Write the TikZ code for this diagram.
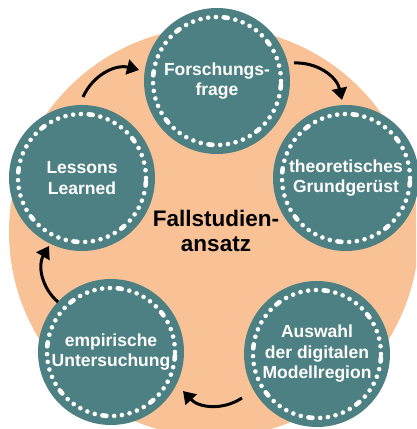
\documentclass[tikz,border=0pt]{standalone}
\usepackage{fontspec}
\setmainfont{Liberation Sans}
\usetikzlibrary{arrows.meta}
\definecolor{tealc}{RGB}{77,128,130}
\definecolor{peach}{RGB}{249,194,150}
\begin{document}
\begin{tikzpicture}[x=1pt,y=1pt,
  stage/.style={circle, fill=tealc, minimum size=146pt, inner sep=0pt, text=white,
    font=\fontsize{17.5}{20.5}\selectfont\bfseries, align=center},
  ring/.style={draw=white, line width=4.6pt, line cap=round,
    dash pattern=on 0pt off 7.8pt on 0pt off 7.8pt on 0pt off 7.8pt on 0pt off 7.8pt on 0pt off 7.8pt on 4pt off 7.8pt},
  flow/.style={line width=3pt, -{Triangle[width=15pt,length=12pt]}, bend left=40}
]
\useasboundingbox (0,0) rectangle (416,429);
\begin{scope}
  \clip (0,0) rectangle (416,429);
  \fill[peach] (214,197) circle[radius=205];
\end{scope}
\node[font=\fontsize{22.5}{25.5}\selectfont\bfseries, align=center] (core) at (216,198) {Fallstudien-\\ansatz};
\node[stage] (ff) at (217,348) {Forschungs-\\frage};
\node[stage] (tg) at (346,251) {theoretisches\\Grundgerüst};
\node[stage] (aw) at (317,75) {Auswahl\\der digitalen\\Modellregion};
\node[stage] (eu) at (111,77) {empirische\\Untersuchung};
\node[stage] (ll) at (82,251) {Lessons\\Learned};
\foreach \n in {ff,tg,aw,eu,ll} {\draw[ring] (\n.center) circle[radius=64];}
\coordinate (a1s) at (83,332);  \coordinate (a1e) at (139,359);
\coordinate (a2s) at (294,366); \coordinate (a2e) at (342,329);
\coordinate (a3s) at (242,31);  \coordinate (a3e) at (183,38);
\coordinate (a4s) at (58,127);  \coordinate (a4e) at (49,183);
\draw[flow] (a1s) to (a1e);
\draw[flow] (a2s) to (a2e);
\draw[flow] (a3s) to (a3e);
\draw[flow] (a4s) to (a4e);
\end{tikzpicture}
\end{document}
